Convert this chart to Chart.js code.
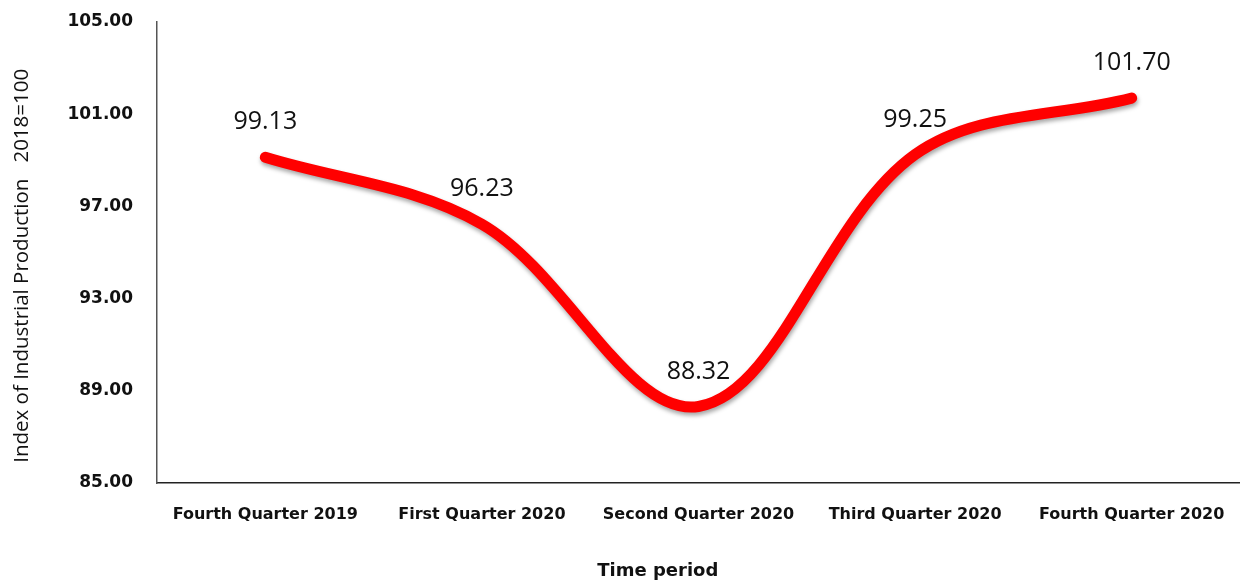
<!DOCTYPE html>
<html>
<head>
<meta charset="utf-8">
<script src="https://cdn.jsdelivr.net/npm/chart.js@4/dist/chart.umd.min.js"></script>
<style>
  html, body { margin: 0; padding: 0; background: #fff; }
  #wrap { width: 1240px; height: 582px; }
</style>
</head>
<body>
<div id="wrap"><canvas id="chart"></canvas></div>
<script>
const periods = ['Fourth Quarter 2019', 'First Quarter 2020', 'Second Quarter 2020', 'Third Quarter 2020', 'Fourth Quarter 2020']
const indexValues = [99.13, 96.23, 88.32, 99.25, 101.70]
const yTicks = [85, 89, 93, 97, 101, 105]

// labels above each point, like excel data labels
const valueLabels = {
  id: 'valueLabels',
  afterDatasetsDraw(chart) {
    const ctx = chart.ctx
    const meta = chart.getDatasetMeta(0)
    ctx.save()
    ctx.font = '25px "Open Sans", sans-serif'
    ctx.fillStyle = '#111'
    ctx.textAlign = 'center'
    ctx.textBaseline = 'middle'
    meta.data.forEach((pt, i) => {
      ctx.fillText(indexValues[i].toFixed(2), pt.x, pt.y - 35)
    })
    ctx.restore()
  }
}

const lineShadow = {
  id: 'lineShadow',
  beforeDatasetDraw(chart) {
    const ctx = chart.ctx
    ctx.save()
    ctx.shadowColor = 'rgba(0,0,0,0.35)'
    ctx.shadowBlur = 4
    ctx.shadowOffsetX = 1
    ctx.shadowOffsetY = 3
  },
  afterDatasetDraw(chart) {
    chart.ctx.restore()
  }
}

new Chart(document.getElementById('chart'), {
  type: 'line',
  data: {
    labels: periods,
    datasets: [{
      data: indexValues,
      borderColor: '#ff0000',
      borderWidth: 11,
      borderCapStyle: 'round',
      borderJoinStyle: 'round',
      tension: 0.35,
      pointRadius: 0,
      fill: false
    }]
  },
  options: {
    responsive: true,
    maintainAspectRatio: false,
    animation: false,
    layout: { autoPadding: false, padding: { top: 22, right: 0, left: 10, bottom: 0 } },
    plugins: {
      legend: { display: false },
      tooltip: { enabled: false }
    },
    scales: {
      x: {
        offset: true,
        afterFit(axis) {
          axis.height = 99
          axis.paddingLeft = 0
          axis.paddingRight = 0
        },
        grid: { display: false, drawTicks: false },
        border: { color: '#222', width: 1.5 },
        ticks: {
          color: '#111',
          padding: 22,
          maxRotation: 0,
          font: { family: '"DejaVu Sans", sans-serif', size: 16, weight: 'bold' }
        },
        title: {
          display: true,
          text: 'Time period' + '\u00a0'.repeat(13),
          color: '#111',
          padding: { top: 14, bottom: 0 },
          font: { family: '"DejaVu Sans", sans-serif', size: 18, weight: 'bold' }
        }
      },
      y: {
        min: 85,
        max: 105,
        afterBuildTicks(axis) {
          axis.ticks = yTicks.map(v => ({ value: v }))
        },
        afterFit(axis) {
          axis.width = 147
          axis.paddingTop = 0
          axis.paddingBottom = 0
        },
        grid: { display: false, drawTicks: false },
        border: { color: '#555', width: 1.5 },
        ticks: {
          color: '#111',
          padding: 24,
          font: { family: '"DejaVu Sans", sans-serif', size: 17, weight: 'bold' },
          callback: v => Number(v).toFixed(2)
        },
        title: {
          display: true,
          text: 'Index of Industrial Production   2018=100' + '\u00a0'.repeat(5),
          color: '#111',
          padding: { top: 0, bottom: 9 },
          font: { family: '"Open Sans", sans-serif', size: 20.5 }
        }
      }
    }
  },
  plugins: [lineShadow, valueLabels]
})
</script>
</body>
</html>
